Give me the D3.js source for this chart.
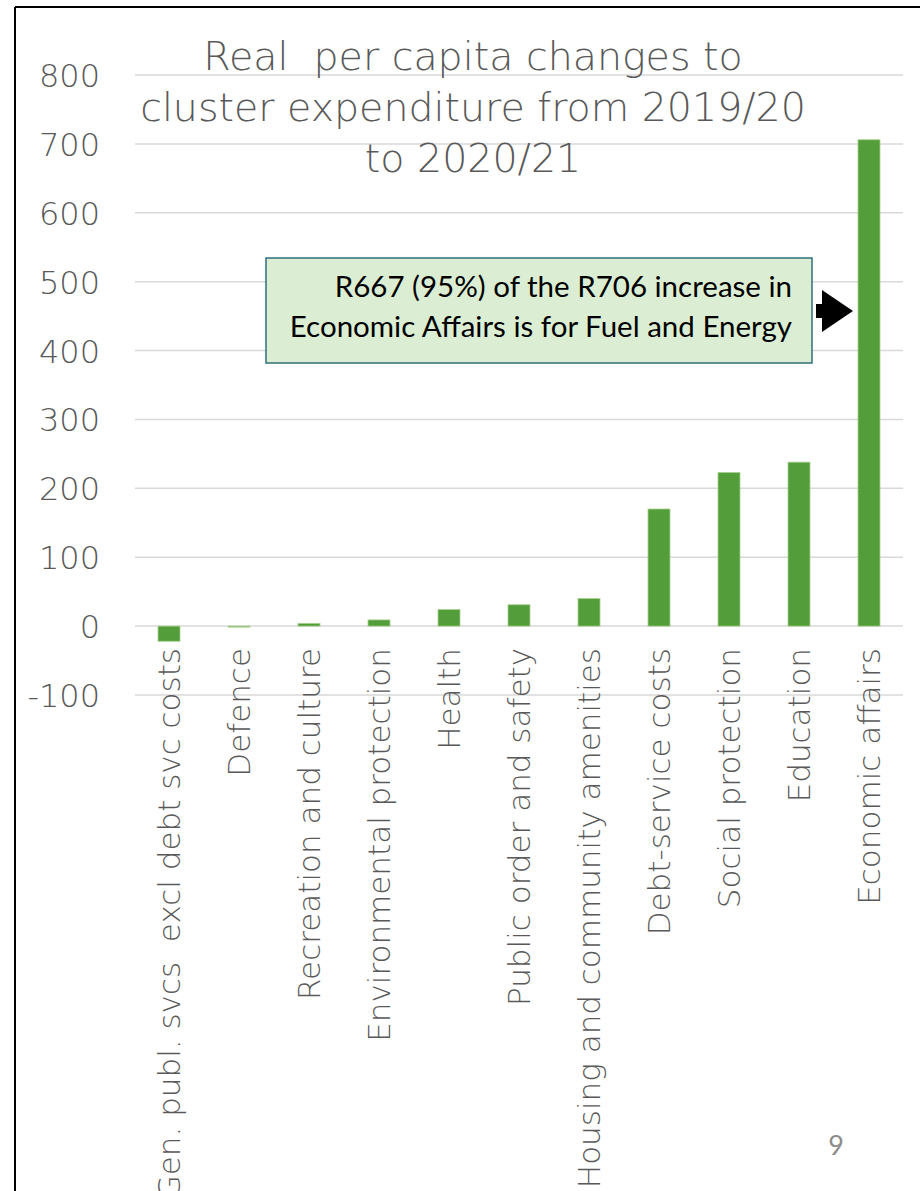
<!DOCTYPE html>
<html>
<head>
<meta charset="utf-8">
<script src="https://cdn.jsdelivr.net/npm/d3@7"></script>
<style>
  html, body { margin: 0; padding: 0; background: #fff; }
  svg { display: block; }
  text { white-space: pre; }
</style>
</head>
<body>
<svg id="chart" width="920" height="1191"></svg>
<script>
// ---- data ----
const categories = [
  "Gen. publ. svcs  excl debt svc costs",
  "Defence",
  "Recreation and culture",
  "Environmental protection",
  "Health",
  "Public order and safety",
  "Housing and community amenities",
  "Debt-service costs",
  "Social protection",
  "Education",
  "Economic affairs"
];
const values = [-22, -1, 4, 9, 24, 31, 40, 170, 223, 238, 706];
const yTicks = [-100, 0, 100, 200, 300, 400, 500, 600, 700, 800];
const titleLines = ["Real  per capita changes to", "cluster expenditure from 2019/20", "to 2020/21"];
const noteLines = ["R667 (95%) of the R706 increase in", "Economic Affairs is for Fuel and Energy"];
const pageNumber = "9";

// ---- layout ----
const svg = d3.select("#chart");
const W = 920, H = 1191;
const plot = { left: 134, right: 904, top: 75, bottom: 695 };
const labelFont = "'DejaVu Sans', sans-serif";
const grey = "#595959";

const x = d3.scaleBand().domain(categories).range([plot.left, plot.right]).padding(0);
const y = d3.scaleLinear().domain([-100, 800]).range([plot.bottom, plot.top]);
const barW = 22;

// frame
svg.append("line").attr("x1", 15).attr("x2", 15).attr("y1", 7).attr("y2", H)
  .attr("stroke", "#000").attr("stroke-width", 2);
svg.append("line").attr("x1", 15).attr("x2", W).attr("y1", 7).attr("y2", 7)
  .attr("stroke", "#000").attr("stroke-width", 2);

// gridlines
svg.append("g").selectAll("line").data(yTicks).join("line")
  .attr("x1", plot.left + 1).attr("x2", plot.right - 1)
  .attr("y1", d => y(d)).attr("y2", d => y(d))
  .attr("stroke", "#d9d9d9").attr("stroke-width", 1.5);

// y axis labels
const yAxis = d3.axisLeft(y).tickValues(yTicks).tickSize(0).tickPadding(0).tickFormat(d => String(d));
const yg = svg.append("g").attr("transform", "translate(100,0)").call(yAxis);
yg.select(".domain").remove();
yg.selectAll("text").attr("fill", grey).attr("font-size", 32)
  .attr("font-family", labelFont).attr("font-weight", 200).attr("dy", "0.36em");

// bars
svg.append("g").selectAll("rect").data(values).join("rect")
  .attr("x", (d, i) => x(categories[i]) + x.bandwidth() / 2 - barW / 2)
  .attr("width", barW)
  .attr("y", d => y(Math.max(0, d)))
  .attr("height", d => Math.max(1, Math.abs(y(d) - y(0))))
  .attr("fill", "#539e3b")
  .attr("stroke", "#a9d08e").attr("stroke-width", 0.8);

// category labels (rotated)
svg.append("g").selectAll("text").data(categories).join("text")
  .attr("transform", d => `translate(${x(d) + x.bandwidth() / 2 + 11},648) rotate(-90)`)
  .attr("text-anchor", "end")
  .attr("fill", grey).attr("font-size", 31)
  .attr("font-family", labelFont).attr("font-weight", 200)
  .text(d => d);

// title
svg.append("g").selectAll("text").data(titleLines).join("text")
  .attr("x", 473).attr("y", (d, i) => 70 + i * 51)
  .attr("text-anchor", "middle")
  .attr("fill", grey).attr("font-size", 39.5)
  .attr("font-family", labelFont).attr("font-weight", 200)
  .text(d => d);

// annotation box
svg.append("rect").attr("x", 266).attr("y", 258).attr("width", 546).attr("height", 105)
  .attr("fill", "#dbeed4").attr("stroke", "#2f6f7c").attr("stroke-width", 1.5);
svg.append("g").selectAll("text").data(noteLines).join("text")
  .attr("x", 792).attr("y", (d, i) => 297 + i * 40)
  .attr("text-anchor", "end")
  .attr("fill", "#000").attr("font-size", 29.5)
  .attr("font-family", "Lato, 'Open Sans', sans-serif")
  .text(d => d);

// arrow pointing to Economic affairs bar
const eaX = x("Economic affairs") + x.bandwidth() / 2 - barW / 2;
const ay = 311;
svg.append("path")
  .attr("d", `M${eaX - 42},${ay - 7} L${eaX - 36},${ay - 7} L${eaX - 36},${ay - 21} L${eaX - 5},${ay} L${eaX - 36},${ay + 21} L${eaX - 36},${ay + 7} L${eaX - 42},${ay + 7} Z`)
  .attr("fill", "#000");

// page number
svg.append("text").attr("x", 836).attr("y", 1155).attr("text-anchor", "middle")
  .attr("fill", "#8c8c8c").attr("font-size", 27).attr("font-family", "Lato, sans-serif")
  .text(pageNumber);
</script>
</body>
</html>
